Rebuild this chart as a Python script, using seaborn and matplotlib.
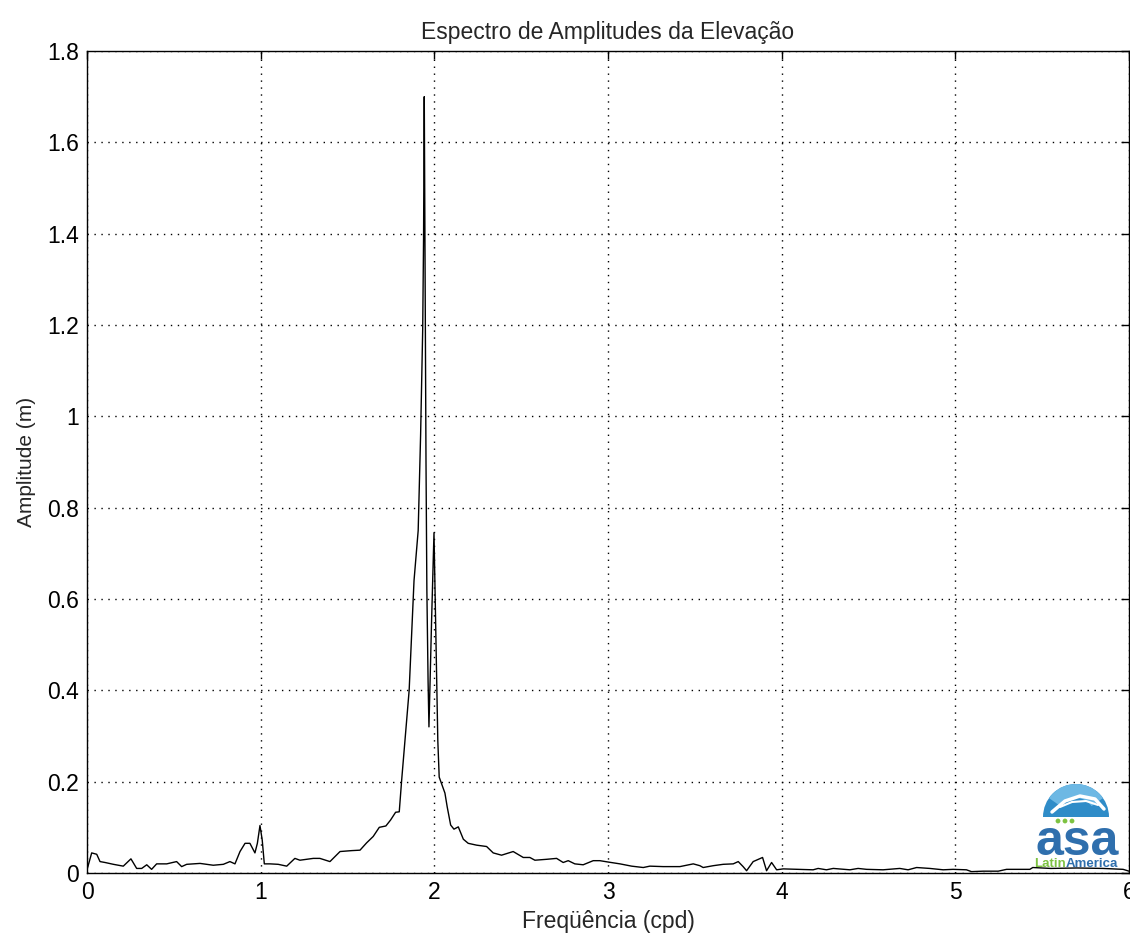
import matplotlib
matplotlib.use("Agg")
import matplotlib.pyplot as plt
from matplotlib.patches import Wedge, Circle
from matplotlib.ticker import FuncFormatter
import seaborn as sns
import pandas as pd

# Amplitude spectrum of sea-surface elevation (frequency in cycles per day)
freq = [0.000, 0.027, 0.056, 0.075, 0.104, 0.152, 0.209, 0.253, 0.286, 0.315,
        0.344, 0.372, 0.401, 0.459, 0.516, 0.545, 0.574, 0.651, 0.727, 0.785,
        0.823, 0.852, 0.881, 0.910, 0.938, 0.967, 0.981, 0.996, 1.009, 1.021,
        1.054, 1.101, 1.150, 1.197, 1.226, 1.303, 1.341, 1.399, 1.457, 1.524,
        1.572, 1.610, 1.648, 1.683, 1.721, 1.748, 1.777, 1.798, 1.812, 1.836,
        1.855, 1.883, 1.907, 1.921, 1.933, 1.938, 1.940, 1.941, 1.942, 1.944,
        1.947, 1.952, 1.957, 1.964, 1.969, 1.984, 1.998, 2.010, 2.020, 2.028,
        2.061, 2.074, 2.094, 2.113, 2.138, 2.167, 2.195, 2.243, 2.301, 2.339,
        2.387, 2.454, 2.512, 2.550, 2.579, 2.647, 2.704, 2.742, 2.771, 2.809,
        2.857, 2.915, 2.953, 3.001, 3.069, 3.136, 3.203, 3.241, 3.318, 3.414,
        3.491, 3.529, 3.548, 3.606, 3.663, 3.721, 3.750, 3.778, 3.798, 3.836,
        3.890, 3.913, 3.942, 3.971, 4.009, 4.105, 4.181, 4.210, 4.258, 4.297,
        4.393, 4.440, 4.489, 4.584, 4.680, 4.728, 4.777, 4.853, 4.930, 4.987,
        5.064, 5.093, 5.160, 5.247, 5.295, 5.429, 5.446, 5.550, 5.700, 5.850,
        5.966, 6.000]
amp = [0.007, 0.044, 0.041, 0.025, 0.023, 0.019, 0.015, 0.031, 0.010, 0.010,
       0.018, 0.008, 0.020, 0.020, 0.025, 0.014, 0.019, 0.021, 0.017, 0.019,
       0.025, 0.020, 0.047, 0.065, 0.065, 0.044, 0.065, 0.104, 0.072, 0.020,
       0.020, 0.019, 0.015, 0.032, 0.028, 0.032, 0.032, 0.025, 0.047, 0.049,
       0.050, 0.066, 0.080, 0.100, 0.103, 0.116, 0.133, 0.134, 0.204, 0.313,
       0.400, 0.640, 0.750, 0.960, 1.190, 1.390, 1.530, 1.600, 1.700, 1.530,
       1.230, 0.900, 0.620, 0.420, 0.320, 0.550, 0.745, 0.500, 0.290, 0.210,
       0.175, 0.145, 0.105, 0.096, 0.101, 0.074, 0.065, 0.061, 0.058, 0.044,
       0.039, 0.047, 0.034, 0.034, 0.028, 0.030, 0.032, 0.023, 0.027, 0.020,
       0.018, 0.027, 0.027, 0.024, 0.020, 0.015, 0.012, 0.015, 0.014, 0.014,
       0.020, 0.016, 0.012, 0.016, 0.019, 0.020, 0.025, 0.014, 0.005, 0.025,
       0.034, 0.005, 0.023, 0.007, 0.009, 0.008, 0.007, 0.010, 0.007, 0.010,
       0.007, 0.010, 0.008, 0.007, 0.010, 0.007, 0.012, 0.010, 0.007, 0.008,
       0.007, 0.003, 0.004, 0.004, 0.008, 0.008, 0.012, 0.010, 0.011, 0.010,
       0.008, 0.004]

x_ticks = [0, 1, 2, 3, 4, 5, 6]
y_ticks = [0, 0.2, 0.4, 0.6, 0.8, 1.0, 1.2, 1.4, 1.6, 1.8]

sns.set_style("white")
plt.rcParams["font.family"] = ["Liberation Sans", "DejaVu Sans"]

fig = plt.figure(figsize=(11.3, 9.35), dpi=100)
ax = fig.add_axes([87 / 1130, 62 / 935, 1042 / 1130, 822 / 935])

df = pd.DataFrame({"freq": freq, "amp": amp})
sns.lineplot(data=df, x="freq", y="amp", ax=ax, color="black", linewidth=1.0,
             sort=False, estimator=None)

ax.set_xlim(0, 6)
ax.set_ylim(0, 1.8)
ax.set_xticks(x_ticks)
ax.set_yticks(y_ticks)
ax.yaxis.set_major_formatter(FuncFormatter(lambda v, p: f"{v:g}"))
ax.xaxis.set_major_formatter(FuncFormatter(lambda v, p: f"{v:g}"))
ax.grid(True, color="black", linestyle=(0, (1, 4)), linewidth=1.0)
ax.tick_params(direction="in", length=6, width=1, top=True, right=True,
               labelsize=16.5, colors="black", pad=6)
for s in ax.spines.values():
    s.set_color("black")
    s.set_linewidth(1.0)

ax.set_title("Espectro de Amplitudes da Elevação", fontsize=16.5, pad=9)
ax.set_xlabel("Freqüência (cpd)", fontsize=16.5, labelpad=4)
ax.set_ylabel("Amplitude (m)", fontsize=15, labelpad=8)

# Company logo in the lower right corner (pixel-based coordinates)
lg = fig.add_axes([1030 / 1130, 62 / 935, 95 / 1130, 95 / 935])
lg.set_xlim(1030, 1125)
lg.set_ylim(62, 157)
lg.axis("off")
lg.patch.set_alpha(0)
lg.add_patch(Wedge((1076, 118), 33, 0, 180, facecolor="#2f8cc8", edgecolor="none"))
lg.add_patch(Wedge((1076, 118), 33, 35, 145, width=14, facecolor="#6db8e4", edgecolor="none"))
lg.plot([1052, 1065, 1080, 1095, 1104], [123, 134, 139, 136, 126], color="white", lw=2.5)
lg.plot([1060, 1072, 1086, 1098], [128, 133, 134, 130], color="white", lw=1.5)
for cx in (1058, 1065, 1072):
    lg.add_patch(Circle((cx, 114), 2.4, facecolor="#7dc242", edgecolor="none"))
lg.text(1077, 93, "asa", ha="center", va="center", fontsize=36, fontweight="bold",
        color="#2f6fad")
lg.text(1066, 71, "Latin", ha="right", va="center", fontsize=9.5,
        fontweight="bold", color="#7dc242")
lg.text(1066, 71, "America", ha="left", va="center", fontsize=9.5,
        fontweight="bold", color="#2f6fad")

fig.savefig("out.png", dpi=100, facecolor="white")
